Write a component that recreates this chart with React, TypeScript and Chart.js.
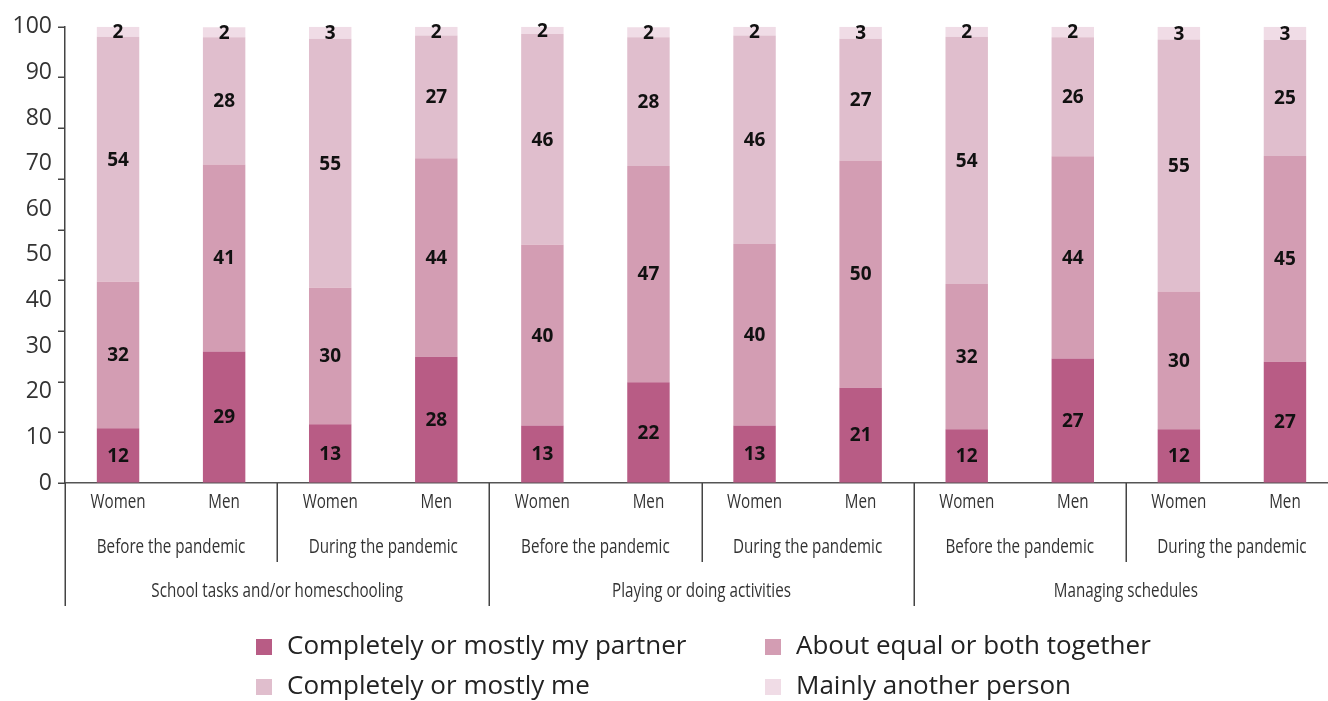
import React, { useEffect, useRef } from "react";
import { Chart, registerables } from "chart.js";

Chart.register(...registerables);

// ---- Data ----
const genders = ["Women", "Men", "Women", "Men", "Women", "Men", "Women", "Men", "Women", "Men", "Women", "Men"];
const periods = [
  "Before the pandemic",
  "During the pandemic",
  "Before the pandemic",
  "During the pandemic",
  "Before the pandemic",
  "During the pandemic",
];
const tasks = ["School tasks and/or homeschooling", "Playing or doing activities", "Managing schedules"];

const seriesNames = [
  "Completely or mostly my partner",
  "About equal or both together",
  "Completely or mostly me",
  "Mainly another person",
];

// segment sizes
const partnerValues = [12.0, 28.8, 12.9, 27.7, 12.6, 22.1, 12.6, 20.9, 11.8, 27.3, 11.8, 26.6];
const equalValues = [32.1, 41.0, 29.9, 43.5, 39.6, 47.4, 39.8, 49.8, 31.8, 44.3, 30.2, 45.1];
const meValues = [53.7, 27.9, 54.6, 26.9, 46.2, 28.2, 45.7, 26.7, 54.2, 26.1, 55.2, 25.4];
const otherValues = [2.2, 2.2, 2.6, 1.9, 1.6, 2.2, 1.9, 2.6, 2.2, 2.3, 2.8, 2.9];

// printed labels
const partnerLabels = [12, 29, 13, 28, 13, 22, 13, 21, 12, 27, 12, 27];
const equalLabels = [32, 41, 30, 44, 40, 47, 40, 50, 32, 44, 30, 45];
const meLabels = [54, 28, 55, 27, 46, 28, 46, 27, 54, 26, 55, 25];
const otherLabels = [2, 2, 3, 2, 2, 2, 2, 3, 2, 2, 3, 3];

// y-axis labels, and the (unevenly matched) tick marks of the original
const yTicks = [0, 10, 20, 30, 40, 50, 60, 70, 80, 90, 100];
const yTickMarks = [0, 11.11, 22.22, 33.33, 44.44, 55.56, 66.67, 77.78, 88.89, 100];

// ---- Styles ----
const colors = ["#B85C85", "#D39DB3", "#E0BECD", "#F0DCE6"];
const catFont = '20px "Open Sans", sans-serif';
const catStretch = 0.76;
const legendFont = '26px "Open Sans", sans-serif';
const valueFont = 'bold 19px "Open Sans", sans-serif';
const axisColor = "#444";

const allLabels = [partnerLabels, equalLabels, meLabels, otherLabels];

const valueLabelPlugin = {
  id: "valueLabels",
  afterDatasetsDraw(chart: any) {
    const ctx = chart.ctx;
    ctx.save();
    ctx.font = valueFont;
    ctx.fillStyle = "#111";
    ctx.textAlign = "center";
    ctx.textBaseline = "middle";
    chart.data.datasets.forEach((ds: any, di: number) => {
      const meta = chart.getDatasetMeta(di);
      meta.data.forEach((el: any, i: number) => {
        const yMid = (el.y + el.base) / 2;
        ctx.fillText(String(allLabels[di][i]), el.x, yMid + 1);
      });
    });
    ctx.restore();
  },
};

function narrowText(ctx: any, text: string, x: number, y: number) {
  ctx.save();
  ctx.translate(x, y);
  ctx.scale(catStretch, 1);
  ctx.fillText(text, 0, 0);
  ctx.restore();
}

const axisPlugin = {
  id: "multiAxis",
  afterDraw(chart: any) {
    const ctx = chart.ctx;
    const xs = chart.scales.x;
    const ys = chart.scales.y;
    const bottom = chart.chartArea.bottom;
    const left = chart.chartArea.left;
    const px = (i: number) => xs.getPixelForValue(i);
    const step = (xs.right - xs.left) / genders.length;
    ctx.save();
    // y tick marks
    ctx.strokeStyle = axisColor;
    ctx.lineWidth = 1.5;
    yTickMarks.forEach((v) => {
      const y = Math.round(ys.getPixelForValue(v)) + 0.25;
      ctx.beginPath();
      ctx.moveTo(left - 7, y);
      ctx.lineTo(left, y);
      ctx.stroke();
    });
    // category labels
    ctx.fillStyle = "#333";
    ctx.font = catFont;
    ctx.textAlign = "center";
    ctx.textBaseline = "middle";
    genders.forEach((g, i) => narrowText(ctx, g, px(i), bottom + 19));
    periods.forEach((p, j) => narrowText(ctx, p, (px(2 * j) + px(2 * j + 1)) / 2, bottom + 64));
    tasks.forEach((t, k) => narrowText(ctx, t, (px(4 * k) + px(4 * k + 3)) / 2, bottom + 108));
    for (let i = 0; i <= genders.length; i += 2) {
      const x = Math.round(xs.left + i * step) + 0.25;
      const len = i % 4 === 0 ? 123 : 79;
      ctx.beginPath();
      ctx.moveTo(x, bottom);
      ctx.lineTo(x, bottom + len);
      ctx.stroke();
    }
    // legend
    ctx.font = legendFont;
    ctx.textAlign = "left";
    const colX = [256, 765];
    const rowY = [647, 687];
    chart.data.datasets.forEach((ds: any, di: number) => {
      const x = colX[di % 2];
      const y = rowY[Math.floor(di / 2)];
      ctx.fillStyle = ds.backgroundColor;
      ctx.fillRect(x, y - 8, 16, 16);
      ctx.fillStyle = "#222";
      ctx.fillText(ds.label, x + 31, y);
    });
    ctx.restore();
  },
};

export default function App() {
  const ref = useRef<HTMLCanvasElement | null>(null);
  useEffect(() => {
    if (!ref.current) return;
    const values = [partnerValues, equalValues, meValues, otherValues];
    const chart = new Chart(ref.current, {
      type: "bar",
      data: {
        labels: genders,
        datasets: seriesNames.map((name, i) => ({
          label: name,
          data: values[i],
          backgroundColor: colors[i],
          borderWidth: 0,
          barPercentage: 0.4,
          categoryPercentage: 1,
        })),
      },
      options: {
        animation: false,
        responsive: true,
        maintainAspectRatio: false,
        layout: { padding: { top: 25, right: 0, bottom: 0, left: 0 } },
        plugins: {
          legend: { display: false },
          tooltip: { enabled: false },
        },
        scales: {
          x: {
            stacked: true,
            grid: { display: false },
            border: { display: true, color: "#555", width: 1.5 },
            ticks: { display: false },
            afterFit: (s: any) => {
              s.height = 218;
            },
          },
          y: {
            stacked: true,
            min: 0,
            max: 100,
            afterBuildTicks: (s: any) => {
              s.ticks = yTicks.map((v) => ({ value: v }));
            },
            ticks: {
              padding: 13,
              color: "#333",
              font: { family: '"Open Sans", sans-serif', size: 23 },
            },
            grid: { display: true, drawOnChartArea: false, drawTicks: false, color: "rgba(0,0,0,0)" },
            border: { display: true, color: axisColor, width: 1.5 },
            afterFit: (s: any) => {
              s.width = 65;
            },
          },
        },
      },
      plugins: [valueLabelPlugin, axisPlugin],
    });
    return () => chart.destroy();
  }, []);

  return (
    <div style={{ position: "fixed", left: 0, top: 0, width: "100vw", height: "100vh", overflow: "hidden", background: "#fff" }}>
      <div style={{ position: "relative", width: 1338, height: 701 }}>
        <canvas ref={ref} />
      </div>
    </div>
  );
}
